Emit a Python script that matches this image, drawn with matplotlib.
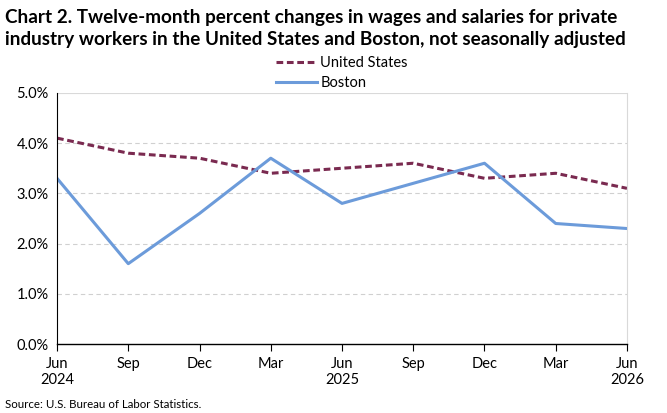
import matplotlib.pyplot as plt
import numpy as np

plt.rcParams['font.family'] = ['Lato', 'DejaVu Sans']

# Data
months = ["Jun\n2024", "Sep", "Dec", "Mar", "Jun\n2025", "Sep", "Dec", "Mar", "Jun\n2026"]
united_states = [4.1, 3.8, 3.7, 3.4, 3.5, 3.6, 3.3, 3.4, 3.1]
boston = [3.3, 1.6, 2.6, 3.7, 2.8, 3.2, 3.6, 2.4, 2.3]

x = np.arange(len(months))

fig = plt.figure(figsize=(6.67, 4.13), dpi=100)
ax = fig.add_axes([0.0855, 0.167, 0.8545, 0.608])

ax.plot(x, united_states, color="#7A2A50", lw=2.2, ls=(0, (2.2, 1.2)), label="United States")
ax.plot(x, boston, color="#6C9BDA", lw=2.2, label="Boston")

ax.set_xlim(0, len(months) - 1)
ax.set_ylim(0, 5)
ax.set_yticks(np.arange(0, 5.01, 1))
ax.set_yticklabels([f"{v:.1f}%" for v in np.arange(0, 5.01, 1)], fontsize=10.5)
ax.set_xticks(x)
ax.set_xticklabels(months, fontsize=10.5)
ax.tick_params(axis="y", length=0, pad=6)
ax.tick_params(axis="x", direction="out", length=5, pad=4)

for v in [1, 2, 3, 4]:
    ax.axhline(v, color="#D0D0D0", lw=0.8, ls=(0, (4, 3)), zorder=0)
ax.axhline(5, color="#D9D9D9", lw=0.8, zorder=0)

ax.spines["left"].set_color("black")
ax.spines["bottom"].set_color("black")
ax.spines["top"].set_visible(False)
ax.spines["right"].set_color("#D9D9D9")
ax.spines["left"].set_linewidth(0.8)
ax.spines["bottom"].set_linewidth(1.0)

fig.text(0.008, 0.978, "Chart 2. Twelve-month percent changes in wages and salaries for private\n"
         "industry workers in the United States and Boston, not seasonally adjusted",
         fontsize=13.6, fontweight="bold", va="top", ha="left", linespacing=1.35)

ax.legend(loc="lower center", bbox_to_anchor=(0.5, 0.97), ncol=1, frameon=False,
          fontsize=10.5, handlelength=2.8, handletextpad=0.2, labelspacing=0.4,
          borderpad=0.2)

fig.text(0.008, 0.008, "Source: U.S. Bureau of Labor Statistics.", fontsize=8.3, ha="left", va="bottom")

fig.savefig("out.png", dpi=100)
